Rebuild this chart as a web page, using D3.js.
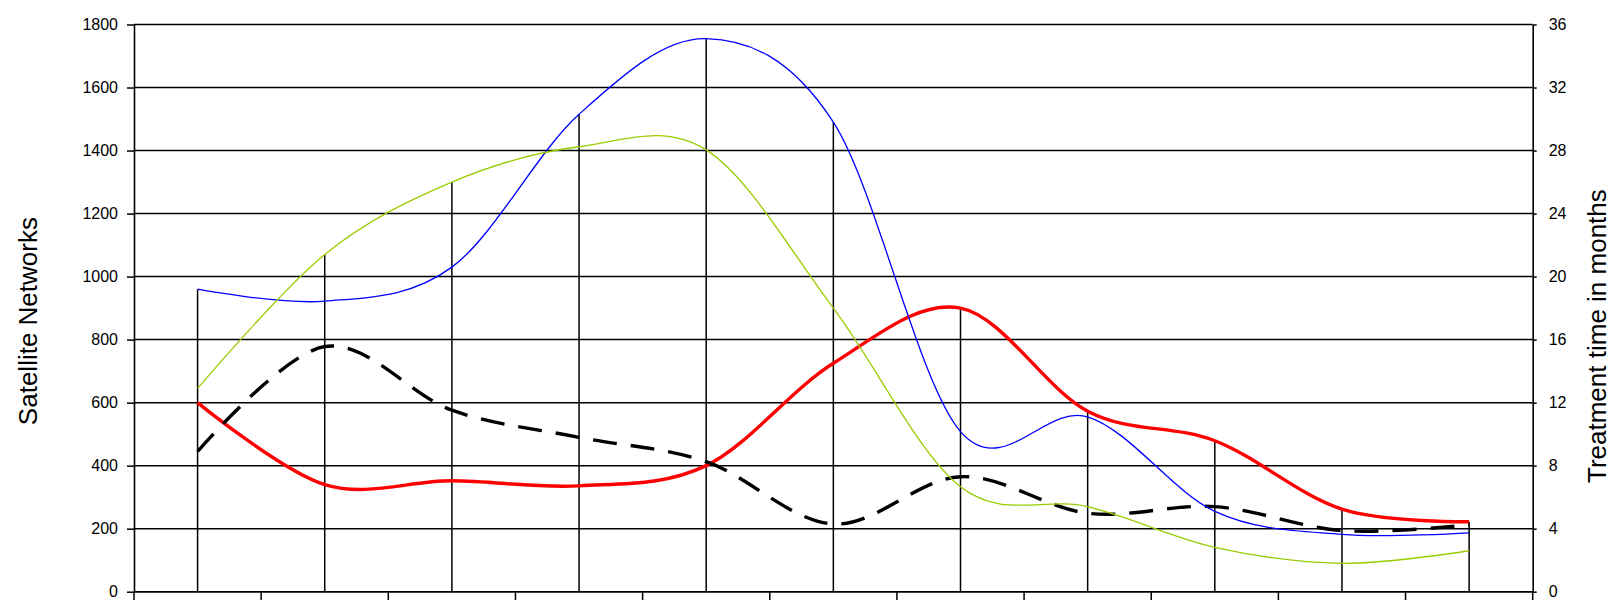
<!DOCTYPE html>
<html>
<head>
<meta charset="utf-8">
<script src="https://cdn.jsdelivr.net/npm/d3@7"></script>
<style>
  body { margin: 0; background: #fff; }
  svg { display: block; }
  text { font-family: "Liberation Sans", Arial, sans-serif; fill: #000; }
</style>
</head>
<body>
<div class="chart"></div>
<script>
// chart data
var categories = ["1", "2", "3", "4", "5", "6", "7", "8", "9", "10", "11"];

// left axis series (Satellite Networks)
var blueValues = [960, 922, 1030, 1515, 1755, 1490, 508, 555, 255, 182, 187];
var greenValues = [645, 1070, 1300, 1412, 1402, 900, 333, 270, 141, 90, 130];
var redValues = [600, 340, 352, 336, 400, 725, 900, 573, 479, 262, 222];

// right axis series (Treatment time in months)
var dashedValues = [8.9, 15.56, 11.52, 9.8, 8.25, 4.3, 7.3, 4.98, 5.4, 3.88, 4.24];

var leftTicks = [0, 200, 400, 600, 800, 1000, 1200, 1400, 1600, 1800];
var rightTicks = [0, 4, 8, 12, 16, 20, 24, 28, 32, 36];

var svgWidth = 1611;
var svgHeight = 600;

var margin = {
    top: 24.5,
    bottom: 8.3,
    left: 134,
    right: 78.3
};

var width = svgWidth - margin.left - margin.right;
var height = svgHeight - margin.top - margin.bottom;

var svg = d3.select(".chart")
    .append("svg")
    .attr("width", svgWidth)
    .attr("height", svgHeight);

var chartGroup = svg.append("g")
    .attr("transform", `translate(${margin.left}, ${margin.top})`);

// scales
var xBandScale = d3.scaleBand()
    .domain(categories)
    .range([0, width]);

var yLeftScale = d3.scaleLinear()
    .domain([0, 1800])
    .range([height, 0]);

var yRightScale = d3.scaleLinear()
    .domain([0, 36])
    .range([height, 0]);

var xCenter = d => xBandScale(d) + xBandScale.bandwidth() / 2;

// gridlines
chartGroup.append("g")
    .selectAll("line")
    .data(leftTicks)
    .enter()
    .append("line")
    .attr("x1", 0)
    .attr("x2", width)
    .attr("y1", d => yLeftScale(d))
    .attr("y2", d => yLeftScale(d))
    .attr("stroke", "#000")
    .attr("stroke-width", 1.5);

// left axis
var leftAxis = d3.axisLeft(yLeftScale)
    .tickValues(leftTicks)
    .tickFormat(d3.format("d"))
    .tickSizeInner(7)
    .tickSizeOuter(0)
    .tickPadding(9);

var leftG = chartGroup.append("g").call(leftAxis);

// right axis
var rightAxis = d3.axisRight(yRightScale)
    .tickValues(rightTicks)
    .tickFormat(d3.format("d"))
    .tickSizeInner(4)
    .tickSizeOuter(0)
    .tickPadding(12);

var rightG = chartGroup.append("g")
    .attr("transform", `translate(${width}, 0)`)
    .call(rightAxis);

[leftG, rightG].forEach(function (g) {
    g.select(".domain").attr("stroke", "#000").attr("stroke-width", 1.6);
    g.selectAll(".tick line").attr("stroke", "#000").attr("stroke-width", 1.5);
    g.selectAll(".tick text")
        .style("font-family", "'Liberation Sans', Arial, sans-serif")
        .style("font-size", "16px")
        .attr("fill", "#000");
});

// bottom axis with ticks between categories
var xTickPositions = categories.map(d => xBandScale(d)).concat([width]);

chartGroup.append("line")
    .attr("x1", 0)
    .attr("x2", width)
    .attr("y1", height)
    .attr("y2", height)
    .attr("stroke", "#000")
    .attr("stroke-width", 1.6);

chartGroup.append("g")
    .selectAll("line")
    .data(xTickPositions)
    .enter()
    .append("line")
    .attr("x1", d => d)
    .attr("x2", d => d)
    .attr("y1", height)
    .attr("y2", height + 10)
    .attr("stroke", "#000")
    .attr("stroke-width", 1.5);

// drop lines from highest point at each category
var dropData = categories.map(function (c, i) {
    var top = Math.max(blueValues[i], greenValues[i], redValues[i],
        yLeftScale.invert(yRightScale(dashedValues[i])));
    return { cat: c, top: top };
});

chartGroup.append("g")
    .selectAll("line")
    .data(dropData)
    .enter()
    .append("line")
    .attr("x1", d => xCenter(d.cat))
    .attr("x2", d => xCenter(d.cat))
    .attr("y1", d => yLeftScale(d.top))
    .attr("y2", height)
    .attr("stroke", "#000")
    .attr("stroke-width", 1.5);

// line generators (excel style smoothing)
var leftLine = d3.line()
    .x((d, i) => xCenter(categories[i]))
    .y(d => yLeftScale(d))
    .curve(d3.curveCardinal.tension(0));

var rightLine = d3.line()
    .x((d, i) => xCenter(categories[i]))
    .y(d => yRightScale(d))
    .curve(d3.curveCardinal.tension(0));

// red
chartGroup.append("path")
    .datum(redValues)
    .attr("d", leftLine)
    .attr("fill", "none")
    .attr("stroke", "#ff0000")
    .attr("stroke-width", 3.4);

// black dashed
chartGroup.append("path")
    .datum(dashedValues)
    .attr("d", rightLine)
    .attr("fill", "none")
    .attr("stroke", "#000")
    .attr("stroke-width", 3.4)
    .attr("stroke-dasharray", "24,14");

// blue
chartGroup.append("path")
    .datum(blueValues)
    .attr("d", leftLine)
    .attr("fill", "none")
    .attr("stroke", "#0000ff")
    .attr("stroke-width", 1.3);

// green
chartGroup.append("path")
    .datum(greenValues)
    .attr("d", leftLine)
    .attr("fill", "none")
    .attr("stroke", "#99cc00")
    .attr("stroke-width", 1.3);

// axis titles
svg.append("text")
    .attr("transform", `translate(36.5, ${margin.top + height / 2 + 13}) rotate(-90)`)
    .attr("text-anchor", "middle")
    .style("font-size", "26px")
    .text("Satellite Networks");

svg.append("text")
    .attr("transform", `translate(1606, ${margin.top + height / 2 + 28}) rotate(-90)`)
    .attr("text-anchor", "middle")
    .style("font-size", "26px")
    .text("Treatment time in months");
</script>
</body>
</html>
